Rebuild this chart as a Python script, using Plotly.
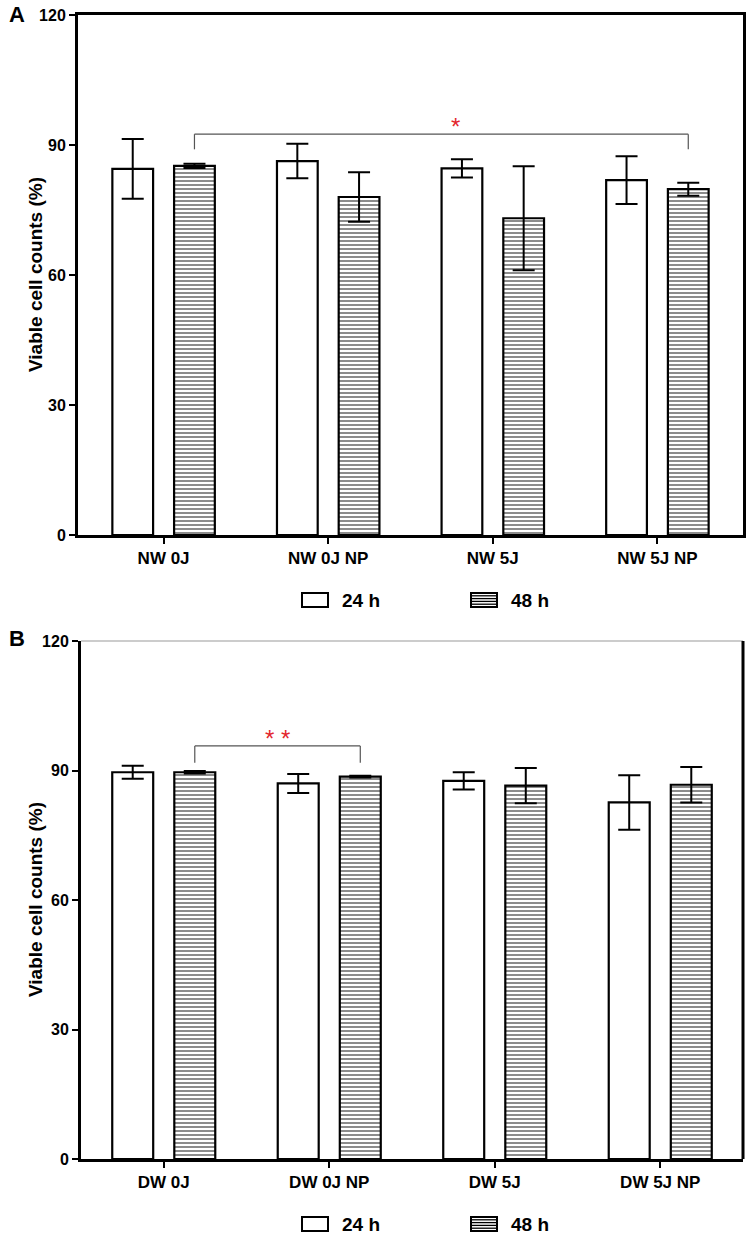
import plotly.graph_objects as go

# ---------------- data ----------------
cats_a = ["NW 0J", "NW 0J NP", "NW 5J", "NW 5J NP"]
a_24 = [84.5, 86.3, 84.6, 81.9]
a_24_err = [6.9, 4.0, 2.1, 5.5]
a_48 = [85.2, 78.0, 73.1, 79.8]
a_48_err = [0.5, 5.7, 12.0, 1.5]

cats_b = ["DW 0J", "DW 0J NP", "DW 5J", "DW 5J NP"]
b_24 = [89.6, 87.0, 87.6, 82.6]
b_24_err = [1.5, 2.2, 2.0, 6.3]
b_48 = [89.6, 88.6, 86.5, 86.7]
b_48_err = [0.3, 0.2, 4.1, 4.1]

y_ticks = [0, 30, 60, 90, 120]
series_names = ["24 h", "48 h"]
y_title = "Viable cell counts (%)"

# significance brackets: (first category, second category, bracket level, drop level, label)
sig_a = (0, 3, 92.5, 89.0, "*")
sig_b = (0, 1, 95.7, 91.8, "* *")

# ---------------- style ----------------
BARGAP = 0.25
GROUPGAP = 0.34
FONT = "Liberation Sans, Arial, sans-serif"
W, H = 755, 1240

fig = go.Figure()


def add_panel(cats, v24, e24, v48, e48, xa, ya):
    err_style = dict(type="data", color="black", thickness=2, width=11)
    fig.add_trace(go.Bar(
        x=cats, y=v24, name=series_names[0], xaxis=xa, yaxis=ya, showlegend=False,
        marker=dict(color="white", line=dict(color="black", width=2.2)),
        error_y=dict(array=e24, **err_style),
    ))
    fig.add_trace(go.Bar(
        x=cats, y=v48, name=series_names[1], xaxis=xa, yaxis=ya, showlegend=False,
        marker=dict(color="white", line=dict(color="black", width=2.2),
                    pattern=dict(shape="-", size=4, solidity=0.45,
                                 fgcolor="black", bgcolor="white")),
        error_y=dict(array=e48, **err_style),
    ))


add_panel(cats_a, a_24, a_24_err, a_48, a_48_err, "x", "y")
add_panel(cats_b, b_24, b_24_err, b_48, b_48_err, "x2", "y2")

# offset of the 48 h bar from the category centre (category units)
slot = (1 - BARGAP) / 2
off48 = slot / 2


def bracket(sig, xref, yref, label_shift):
    i, j, top, drop, label = sig
    x0, x1 = i + off48, j + off48
    line = dict(color="#555555", width=1.2)
    fig.add_shape(type="line", x0=x0, x1=x1, y0=top, y1=top, xref=xref, yref=yref, line=line)
    fig.add_shape(type="line", x0=x0, x1=x0, y0=top, y1=drop, xref=xref, yref=yref, line=line)
    fig.add_shape(type="line", x0=x1, x1=x1, y0=top, y1=drop, xref=xref, yref=yref, line=line)
    fig.add_annotation(x=(x0 + x1) / 2 + label_shift, y=top, xref=xref, yref=yref,
                       text=label, showarrow=False, yanchor="bottom", yshift=-8,
                       font=dict(color="#e3262d", size=24, family=FONT))


bracket(sig_a, "x", "y", 0.087)
bracket(sig_b, "x2", "y2", 0.0)


def px_dom_x(a, b):
    return [a / W, b / W]


def px_dom_y(top, bottom):
    return [1 - bottom / H, 1 - top / H]


axis_common = dict(
    showline=True, linecolor="black", linewidth=3, showgrid=False, zeroline=False,
    ticks="outside", tickcolor="black", tickwidth=2, ticklen=6, automargin=False,
)
xfont = dict(family=FONT, size=17, color="black", weight="bold")
yfont = dict(family=FONT, size=16, color="black", weight="bold")

fig.update_layout(
    width=W, height=H, margin=dict(l=0, r=0, t=0, b=0, autoexpand=False),
    paper_bgcolor="white", plot_bgcolor="white",
    barmode="group", bargap=BARGAP, bargroupgap=GROUPGAP, showlegend=False,
    xaxis=dict(domain=px_dom_x(78, 743), anchor="y", mirror=True, range=[-0.52, 3.52],
               tickfont=xfont, **axis_common),
    yaxis=dict(domain=px_dom_y(15, 535), anchor="x", range=[0, 120], tickvals=y_ticks,
               mirror=True, tickfont=yfont, **axis_common),
    xaxis2=dict(domain=px_dom_x(81, 743), anchor="y2", tickfont=xfont, **axis_common),
    yaxis2=dict(domain=px_dom_y(641, 1159), anchor="x2", range=[0, 120], tickvals=y_ticks,
                tickfont=yfont, **axis_common),
)

# panel B frame: thin grey top, thick black right
fig.add_shape(type="line", xref="x2 domain", yref="y2 domain", x0=0, x1=1, y0=1, y1=1,
              line=dict(color="#bbbbbb", width=1.5))
fig.add_shape(type="line", xref="x2 domain", yref="y2 domain", x0=1, x1=1, y0=0, y1=1,
              line=dict(color="black", width=3))

# y-axis titles
for yref in ("y domain", "y2 domain"):
    fig.add_annotation(text=f"<b>{y_title}</b>", xref="paper", yref=yref, x=35 / W, y=0.5,
                       textangle=-90, showarrow=False, xanchor="center", yanchor="middle",
                       font=dict(family=FONT, size=19, color="black"))


# legends drawn with larger symbols, like the original
def legend(ycenter):
    boxes = [(302, 328), (471, 497)]
    for k, (bx0, bx1) in enumerate(boxes):
        y0, y1 = ycenter - 7, ycenter + 7
        fig.add_shape(type="rect", xref="paper", yref="paper",
                      x0=bx0 / W, x1=bx1 / W, y0=1 - y1 / H, y1=1 - y0 / H,
                      line=dict(color="black", width=2), fillcolor="white")
        if k == 1:
            n = 5
            for m in range(1, n):
                yy = y0 + (y1 - y0) * m / n
                fig.add_shape(type="line", xref="paper", yref="paper",
                              x0=bx0 / W, x1=bx1 / W, y0=1 - yy / H, y1=1 - yy / H,
                              line=dict(color="black", width=1.3))
        fig.add_annotation(text=f"<b>{series_names[k]}</b>", xref="paper", yref="paper",
                           x=(bx1 + 12) / W, y=1 - ycenter / H, xanchor="left", yanchor="middle",
                           showarrow=False, font=dict(family=FONT, size=19, color="black"))


legend(600)
legend(1224)

# panel letters
for letter, ypx in (("A", 15), ("B", 638)):
    fig.add_annotation(text=f"<b>{letter}</b>", x=17 / W, y=1 - ypx / H, xref="paper", yref="paper",
                       showarrow=False, xanchor="center", yanchor="middle",
                       font=dict(family=FONT, size=22, color="black"))

fig.write_html("out.html", config={"displayModeBar": False},
               post_script="document.body.style.margin='0';")
